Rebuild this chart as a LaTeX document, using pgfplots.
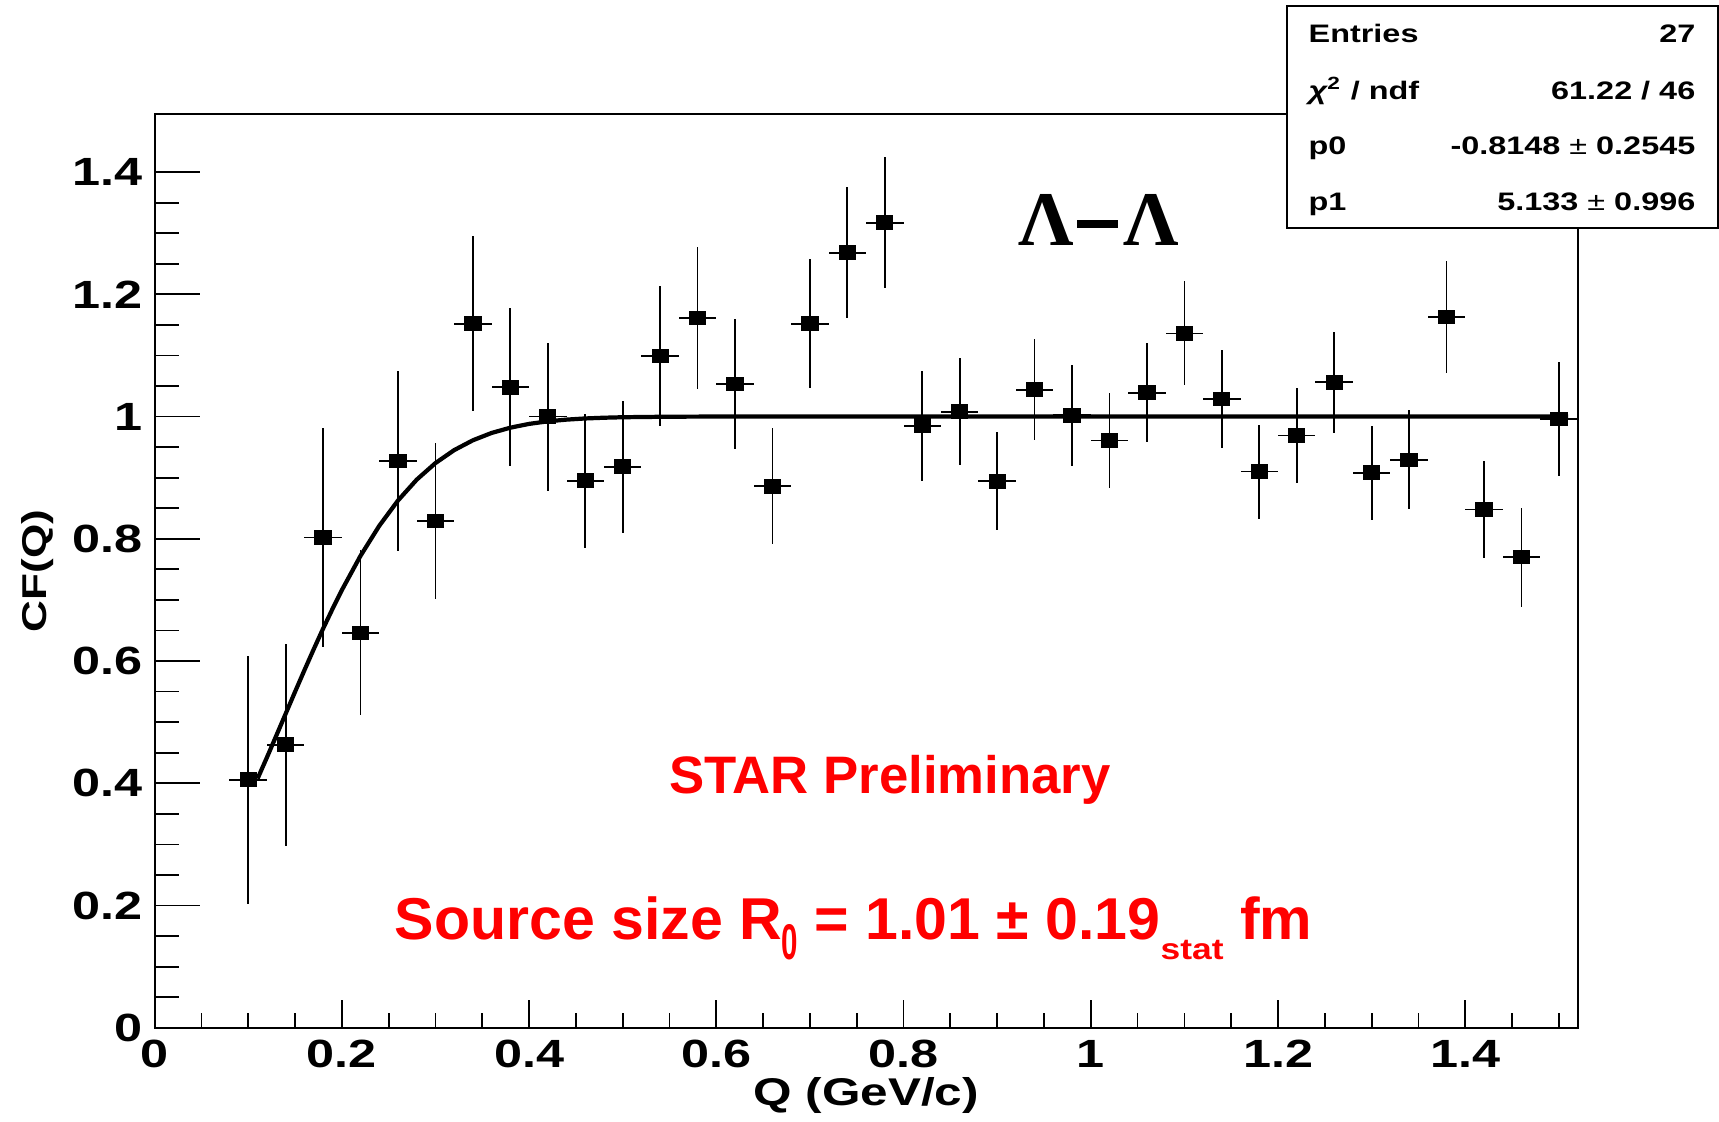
\documentclass[border=0pt]{standalone}
\usepackage{pgfplots}
\pgfplotsset{compat=1.18}
\usepackage{pgfplotstable}
\usepackage{graphicx}
\usepackage{fontspec}
\setmainfont{Liberation Sans}
\newfontfamily\rootfont{Liberation Sans}[FakeStretch=1.28]
\newfontfamily\serifb{Liberation Serif}

\pgfplotstableread{
x y ex ey
0.10 0.406 0.02 0.203
0.14 0.463 0.02 0.165
0.18 0.802 0.02 0.179
0.22 0.646 0.02 0.135
0.26 0.927 0.02 0.147
0.30 0.829 0.02 0.128
0.34 1.152 0.02 0.143
0.38 1.048 0.02 0.129
0.42 1.000 0.02 0.121
0.46 0.895 0.02 0.110
0.50 0.918 0.02 0.108
0.54 1.099 0.02 0.115
0.58 1.161 0.02 0.116
0.62 1.053 0.02 0.106
0.66 0.886 0.02 0.095
0.70 1.152 0.02 0.106
0.74 1.268 0.02 0.107
0.78 1.317 0.02 0.107
0.82 0.985 0.02 0.090
0.86 1.008 0.02 0.088
0.90 0.894 0.02 0.080
0.94 1.044 0.02 0.083
0.98 1.002 0.02 0.083
1.02 0.961 0.02 0.078
1.06 1.039 0.02 0.081
1.10 1.136 0.02 0.085
1.14 1.029 0.02 0.080
1.18 0.910 0.02 0.077
1.22 0.969 0.02 0.077
1.26 1.056 0.02 0.083
1.30 0.908 0.02 0.077
1.34 0.929 0.02 0.081
1.38 1.163 0.02 0.092
1.42 0.848 0.02 0.080
1.46 0.770 0.02 0.081
1.50 0.996 0.02 0.094
}\cfdata

\pgfplotsset{
  rootaxis/.style={
    at={(1.546cm,0.942cm)}, anchor=south west,
    scale only axis, width=14.23cm, height=9.138cm,
    xmin=0, xmax=1.52, ymin=0, ymax=1.495,
    tick align=inside,
    axis line style={line width=0.6pt},
    every tick/.style={black, line width=0.5pt},
    /pgf/number format/assume math mode=true,
    tick label style={font=\rootfont\bfseries\fontsize{11.2}{13}\selectfont},
  }
}

\begin{document}
\begin{tikzpicture}
\useasboundingbox (0,0) rectangle (17.19cm,11.22cm);

% y ticks axis
\begin{axis}[rootaxis,
  xtick=\empty,
  ytick distance=0.2, minor y tick num=3, ytick pos=left,
  major tick length=0.45cm, minor tick length=0.24cm,
  ylabel={CF(Q)},
  ylabel style={font=\rootfont\bfseries\fontsize{9.8}{11}\selectfont,
    at={(axis description cs:-0.082,0.5)}, anchor=center},
]
\end{axis}

% main axis with data and x ticks
\begin{axis}[rootaxis,
  ytick=\empty,
  xtick distance=0.2, minor x tick num=3, xtick pos=left,
  major tick length=0.28cm, minor tick length=0.15cm,
  xlabel={Q (GeV/c)},
  xlabel style={font=\rootfont\bfseries\fontsize{11}{13}\selectfont,
    at={(axis description cs:0.5,-0.0744)}, anchor=center},
]
\addplot[black, only marks, mark=square*, mark size=0.066cm,
  mark options={xscale=1.2, fill=black, draw=black},
  error bars/.cd, x dir=both, x explicit, y dir=both, y explicit,
  error mark=none, error bar style={line width=0.5pt, black}]
  table[x=x, y=y, x error=ex, y error=ey] {\cfdata};
\addplot[black, line width=1.2pt] coordinates {
(0.11,0.4076) (0.12,0.4424) (0.13,0.4780) (0.14,0.5138) (0.15,0.5496)
(0.16,0.5849) (0.17,0.6195) (0.18,0.6531) (0.19,0.6852) (0.20,0.7160)
(0.22,0.7723) (0.24,0.8213) (0.26,0.8627) (0.28,0.8968) (0.30,0.9239)
(0.32,0.9451) (0.34,0.9612) (0.36,0.9732) (0.38,0.9818) (0.40,0.9880)
(0.42,0.9922) (0.44,0.9950) (0.46,0.9969) (0.48,0.9981) (0.50,0.9989)
(0.55,0.9998) (0.60,1.0) (1.51,1.0)
};
\end{axis}

% stats box
\draw[line width=0.6pt, fill=white] (12.87cm,8.94cm) rectangle (17.18cm,11.16cm);
\begin{scope}[every node/.style={inner sep=0pt, font=\rootfont\bfseries\fontsize{7.2}{9}\selectfont}]
\node[anchor=base west] at (13.08cm,10.79cm) {Entries};
\node[anchor=base east] at (16.96cm,10.79cm) {27};
\node[anchor=base west] at (13.08cm,10.22cm) {{\itshape χ}\textsuperscript{2} / ndf};
\node[anchor=base east] at (16.96cm,10.22cm) {61.22 / 46};
\node[anchor=base west] at (13.08cm,9.67cm) {p0};
\node[anchor=base east] at (16.96cm,9.67cm) {-0.8148 {\mdseries ±} 0.2545};
\node[anchor=base west] at (13.08cm,9.11cm) {p1};
\node[anchor=base east] at (16.96cm,9.11cm) {5.133 {\mdseries ±} 0.996};
\end{scope}

% annotations
\node[anchor=base, inner sep=0pt, font=\serifb\bfseries\fontsize{22}{24}\selectfont]
  at (10.985cm,8.76cm) {Λ\hspace{0.03cm}\rule[0.18cm]{0.41cm}{0.075cm}\hspace{0.05cm}Λ};
\node[anchor=base, inner sep=0pt, text=red, font=\bfseries\fontsize{15}{18}\selectfont]
  at (8.90cm,3.28cm) {STAR Preliminary};
\node[anchor=base, inner sep=0pt, text=red, font=\bfseries\fontsize{16.8}{19}\selectfont]
  at (8.535cm,1.82cm) {Source size R\raisebox{-0.2cm}{\scalebox{0.5}[0.85]{0}} = 1.01 ± 0.19\raisebox{-0.2cm}{\scalebox{0.6}[0.5]{stat}} fm};
\end{tikzpicture}
\end{document}
